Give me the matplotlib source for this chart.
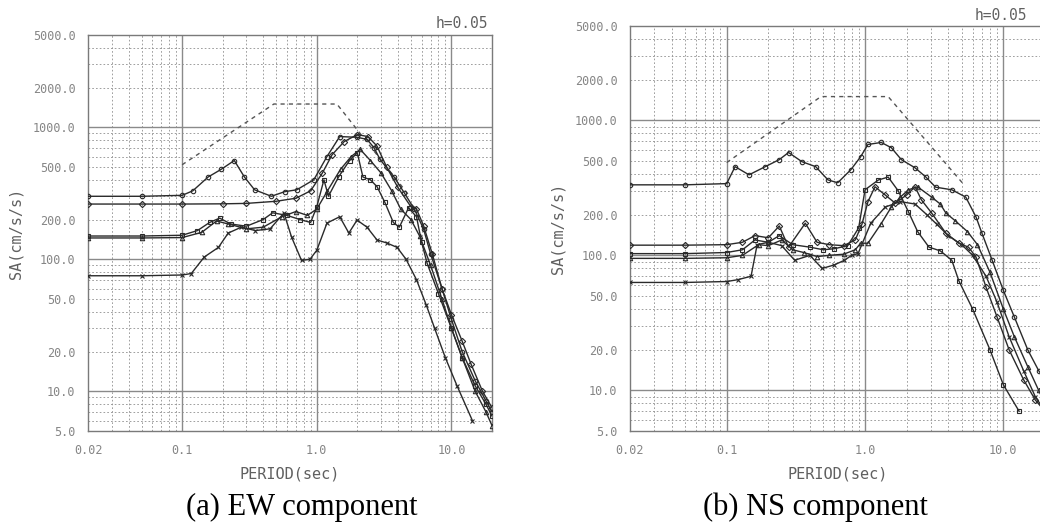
import matplotlib
matplotlib.use('Agg')
import matplotlib.pyplot as plt
import numpy as np

# ---- data (period in sec, SA in cm/s/s) ----
x_ticks = [0.02, 0.1, 1.0, 10.0]
x_tick_labels = ['0.02', '0.1', '1.0', '10.0']
y_ticks = [5, 10, 20, 50, 100, 200, 500, 1000, 2000, 5000]
y_tick_labels = ['5.0', '10.0', '20.0', '50.0', '100.0', '200.0', '500.0', '1000.0', '2000.0', '5000.0']

# EW component
ew_design_T = [0.1, 0.48, 1.41, 4.9]
ew_design_SA = [520, 1500, 1500, 300]

ew_a_T = [0.02, 0.05, 0.1, 0.12, 0.156, 0.195, 0.244, 0.29, 0.345, 0.46, 0.577, 0.71, 0.95, 1.19, 1.48,
          1.99, 2.36, 2.66, 2.95, 3.75, 4.45, 5.3, 6.2, 7.0, 8.5, 10, 12, 15, 18, 20]
ew_a_SA = [300, 300, 305, 330, 420, 480, 560, 420, 336, 300, 325, 336, 400, 600, 850,
           840, 810, 700, 570, 420, 320, 240, 170, 110, 60, 35, 20, 12, 8.5, 7]

ew_b_T = [0.02, 0.05, 0.1, 0.2, 0.3, 0.5, 0.7, 0.9, 1.1, 1.3, 1.6, 2.0, 2.4, 2.8, 3.3, 4.0, 5.0, 5.5,
          6.2, 7.2, 8.5, 10, 12, 14, 17, 20]
ew_b_SA = [262, 262, 262, 263, 265, 275, 290, 330, 450, 620, 780, 880, 850, 720, 500, 350, 250, 240,
           180, 110, 60, 38, 24, 16, 10, 7.5]

ew_c_T = [0.02, 0.05, 0.1, 0.13, 0.16, 0.19, 0.23, 0.3, 0.4, 0.47, 0.6, 0.75, 0.9, 1.0, 1.13, 1.22,
          1.45, 1.75, 2.0, 2.2, 2.5, 2.8, 3.2, 3.7, 4.1, 4.8, 5.5, 6.0, 6.6, 8.0, 10, 12, 15, 18, 20]
ew_c_SA = [150, 150, 152, 165, 190, 205, 185, 178, 200, 225, 215, 200, 190, 250, 400, 300,
           420, 560, 640, 420, 400, 355, 270, 190, 175, 245, 210, 135, 93, 55, 30, 18, 11, 8, 6.5]

ew_d_T = [0.02, 0.05, 0.1, 0.14, 0.18, 0.22, 0.3, 0.4, 0.55, 0.7, 0.85, 1.0, 1.2, 1.5, 1.8, 2.1, 2.5,
          3.0, 3.6, 4.2, 5.0, 5.8, 7.0, 8.5, 10, 12, 15, 18, 20]
ew_d_SA = [145, 145, 146, 160, 195, 185, 170, 175, 210, 230, 215, 240, 330, 480, 600, 680, 560,
           450, 330, 240, 200, 150, 90, 50, 30, 18, 10, 7, 5.5]

ew_e_T = [0.02, 0.05, 0.1, 0.117, 0.146, 0.186, 0.22, 0.275, 0.35, 0.45, 0.57, 0.65, 0.77, 0.89, 1.0,
          1.19, 1.48, 1.73, 1.99, 2.36, 2.8, 3.3, 3.95, 4.6, 5.5, 6.5, 7.5, 9.0, 11, 14.3]
ew_e_SA = [75, 75, 76, 78, 104, 123, 158, 175, 165, 170, 224, 147, 98, 100, 117,
           188, 210, 158, 198, 175, 140, 133, 123, 100, 70, 45, 30, 18, 11, 6]

# NS component
ns_design_T = [0.1, 0.48, 1.47, 5.2]
ns_design_SA = [487, 1500, 1500, 333]

ns_a_T = [0.02, 0.05, 0.1, 0.115, 0.145, 0.19, 0.24, 0.28, 0.35, 0.44, 0.54, 0.635, 0.79, 0.93, 1.05,
          1.31, 1.55, 1.83, 2.3, 2.74, 3.24, 4.24, 5.35, 6.35, 7.0, 8.3, 10, 12, 15, 18, 20]
ns_a_SA = [333, 333, 340, 454, 395, 454, 512, 578, 494, 454, 362, 345, 431, 538, 663,
           686, 627, 512, 445, 382, 320, 306, 270, 192, 146, 92, 55, 35, 20, 14, 12]

ns_b_T = [0.02, 0.05, 0.1, 0.13, 0.16, 0.2, 0.24, 0.28, 0.37, 0.45, 0.55, 0.7, 0.85, 0.95, 1.05, 1.18,
          1.4, 1.65, 2.0, 2.3, 2.56, 3.03, 3.84, 4.76, 5.6, 6.35, 7.5, 9, 11, 14, 17, 20]
ns_b_SA = [119, 119, 120, 125, 140, 135, 165, 115, 173, 125, 120, 118, 130, 170, 250, 322,
           280, 244, 280, 322, 257, 206, 146, 123, 115, 97, 58, 35, 20, 12, 8.5, 7]

ns_c_T = [0.02, 0.05, 0.1, 0.13, 0.16, 0.2, 0.24, 0.3, 0.4, 0.5, 0.6, 0.75, 0.9, 1.0, 1.25, 1.47,
          1.74, 2.06, 2.4, 2.9, 3.5, 4.24, 4.76, 6.0, 8.0, 10, 13]
ns_c_SA = [103, 103, 105, 110, 130, 125, 140, 120, 115, 110, 112, 118, 160, 306, 362, 380,
           300, 210, 150, 115, 108, 92, 65, 40, 20, 11, 7]

ns_d_T = [0.02, 0.05, 0.1, 0.13, 0.17, 0.2, 0.25, 0.3, 0.36, 0.45, 0.55, 0.7, 0.85, 0.93, 1.05, 1.3,
          1.55, 1.8, 2.06, 2.4, 3.03, 3.5, 3.84, 4.5, 5.5, 6.5, 8, 10, 12, 15, 18, 20]
ns_d_SA = [95, 95, 96, 100, 120, 118, 130, 110, 105, 98, 100, 102, 110, 123, 123, 170,
           228, 270, 306, 322, 270, 240, 206, 180, 150, 120, 75, 40, 25, 15, 10, 8]

ns_e_T = [0.02, 0.05, 0.1, 0.12, 0.15, 0.166, 0.2, 0.25, 0.31, 0.4, 0.49, 0.6, 0.71, 0.8, 0.89, 1.1,
          1.4, 1.8, 2.3, 2.8, 3.3, 4.0, 5.0, 6.0, 7.5, 9, 11, 14, 17, 20]
ns_e_SA = [63, 63, 64, 66, 70, 120, 125, 118, 92, 100, 80, 85, 92, 100, 103, 173,
           228, 250, 240, 200, 170, 140, 120, 100, 70, 45, 25, 14, 9, 7]

ew_curves = [(ew_a_T, ew_a_SA), (ew_b_T, ew_b_SA), (ew_c_T, ew_c_SA), (ew_d_T, ew_d_SA), (ew_e_T, ew_e_SA)]
ns_curves = [(ns_a_T, ns_a_SA), (ns_b_T, ns_b_SA), (ns_c_T, ns_c_SA), (ns_d_T, ns_d_SA), (ns_e_T, ns_e_SA)]
markers = ['o', 'D', 's', '^', 'x']

mono = 'DejaVu Sans Mono'
W, H = 1040, 526
fig = plt.figure(figsize=(W / 100, H / 100), dpi=100)

# axes boxes in pixels: left, right, top, bottom
ax_ew = fig.add_axes([88 / W, 1 - 431 / H, (492 - 88) / W, (431 - 35) / H])
ax_ns = fig.add_axes([630 / W, 1 - 431 / H, (1045 - 630) / W, (431 - 26) / H])


def draw_grid(ax):
    decades = [0.1, 1, 10, 100, 1000]
    for base in [0.01, 0.1, 1, 10]:
        for k in range(1, 10):
            v = base * k
            if 0.02 < v < 20:
                if k == 1:
                    ax.axvline(v, color='#8a8a8a', lw=1.0, zorder=1)
                else:
                    ax.axvline(v, color='#8f8f8f', lw=0.6, ls=(0, (2, 2.5)), zorder=1)
    for base in [1, 10, 100, 1000]:
        for k in range(1, 10):
            v = base * k
            if 5 < v < 5000:
                if v in decades:
                    ax.axhline(v, color='#8a8a8a', lw=1.0, zorder=1)
                else:
                    ax.axhline(v, color='#8f8f8f', lw=0.6, ls=(0, (2, 2.5)), zorder=1)


def setup(ax):
    ax.set_xscale('log')
    ax.set_yscale('log')
    ax.set_xlim(0.02, 20)
    ax.set_ylim(5, 5000)
    ax.set_xticks(x_ticks)
    ax.set_xticklabels(x_tick_labels)
    ax.set_yticks(y_ticks)
    ax.set_yticklabels(y_tick_labels)
    ax.minorticks_off()
    ax.tick_params(length=0, pad=9, labelsize=8.5, labelcolor='#858585')
    for lab in ax.get_xticklabels() + ax.get_yticklabels():
        lab.set_family(mono)
    for s in ax.spines.values():
        s.set_color('#7a7a7a')
        s.set_linewidth(1.0)
    draw_grid(ax)
    ax.set_xlabel('PERIOD(sec)', family=mono, fontsize=11, color='#606060', labelpad=7)
    ax.set_ylabel('SA(cm/s/s)', family=mono, fontsize=11, color='#606060', labelpad=7)


for ax, curves, dT, dSA in [(ax_ew, ew_curves, ew_design_T, ew_design_SA),
                            (ax_ns, ns_curves, ns_design_T, ns_design_SA)]:
    setup(ax)
    ax.plot(dT, dSA, color='#555555', lw=1.0, ls=(0, (3, 3)), zorder=3)
    for (T, SA), m in zip(curves, markers):
        ax.plot(T, SA, color='#2a2a2a', lw=1.0, marker=m, ms=3.2, mfc='none', mec='#2a2a2a',
                mew=0.8, zorder=4)

fig.text(488 / W, 1 - 23 / H, 'h=0.05', family=mono, fontsize=10.5, color='#606060',
         ha='right', va='center')
fig.text(975 / W, 1 - 15 / H, 'h=0.05', family=mono, fontsize=10.5, color='#606060',
         ha='left', va='center')

fig.text(302 / W, 1 - 507 / H, '(a) EW component', family='Liberation Serif', fontsize=22,
         ha='center', va='center')
fig.text(815 / W, 1 - 507 / H, '(b) NS component', family='Liberation Serif', fontsize=22,
         ha='center', va='center')

fig.savefig('out.png', dpi=100)
